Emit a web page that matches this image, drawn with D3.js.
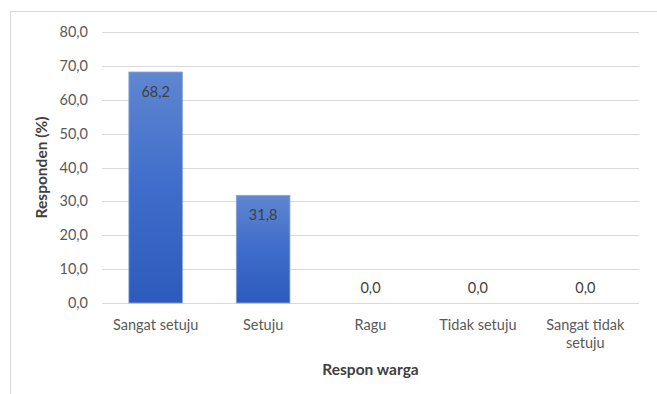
<!DOCTYPE html>
<html>
<head>
<meta charset="utf-8">
<script src="https://cdn.jsdelivr.net/npm/d3@7"></script>
<style>
  body { margin: 0; background: #fff; }
  text { font-family: Lato, "Open Sans", sans-serif; }
</style>
</head>
<body>
<div id="chart"></div>
<script>
// data
const categories = ["Sangat setuju", "Setuju", "Ragu", "Tidak setuju", "Sangat tidak setuju"];
const values = [68.2, 31.8, 0.0, 0.0, 0.0];
const yTicks = [0, 10, 20, 30, 40, 50, 60, 70, 80];

const width = 657, height = 394;
const margin = { top: 32, right: 18, bottom: 91, left: 102 };

const svg = d3.select("#chart").append("svg")
  .attr("width", width)
  .attr("height", height);

// outer frame (clipped at the right and bottom like the screenshot)
svg.append("rect")
  .attr("x", 10.5).attr("y", 11.5)
  .attr("width", 700).attr("height", 500)
  .attr("fill", "none").attr("stroke", "#d9d9d9");

const defs = svg.append("defs");
const grad = defs.append("linearGradient")
  .attr("id", "barGrad").attr("x1", 0).attr("y1", 0).attr("x2", 0).attr("y2", 1);
grad.append("stop").attr("offset", "0%").attr("stop-color", "#5f86d0");
grad.append("stop").attr("offset", "50%").attr("stop-color", "#3f6dcb");
grad.append("stop").attr("offset", "100%").attr("stop-color", "#2c5bbd");

const x = d3.scaleBand()
  .domain(categories)
  .range([margin.left, width - margin.right])
  .paddingInner(0.5).paddingOuter(0.25);

const y = d3.scaleLinear()
  .domain([0, 80])
  .range([height - margin.bottom, margin.top]);

const fmt = v => d3.format(".1f")(v).replace(".", ",");

// gridlines
svg.append("g").selectAll("line")
  .data(yTicks)
  .join("line")
  .attr("x1", margin.left).attr("x2", width - margin.right)
  .attr("y1", d => Math.round(y(d)) + 0.5).attr("y2", d => Math.round(y(d)) + 0.5)
  .attr("stroke", "#d9d9d9").attr("stroke-width", 1);

// y tick labels
svg.append("g").selectAll("text")
  .data(yTicks)
  .join("text")
  .attr("x", 88)
  .attr("y", d => y(d))
  .attr("dy", "0.35em")
  .attr("text-anchor", "end")
  .attr("font-size", 14.5)
  .attr("fill", "#595959")
  .text(d => fmt(d));

// bars
svg.append("g").selectAll("rect")
  .data(values)
  .join("rect")
  .attr("x", (d, i) => x(categories[i]))
  .attr("y", d => y(d))
  .attr("width", x.bandwidth())
  .attr("height", d => y(0) - y(d))
  .attr("fill", "url(#barGrad)")
  .attr("stroke", d => d > 0 ? "#8eaadb" : "none")
  .attr("stroke-width", 0.8);

// data labels
svg.append("g").selectAll("text")
  .data(values)
  .join("text")
  .attr("x", (d, i) => x(categories[i]) + x.bandwidth() / 2)
  .attr("y", d => d > 0 ? y(d) + 20 : y(d) - 15)
  .attr("dy", "0.35em")
  .attr("text-anchor", "middle")
  .attr("font-size", 14.5)
  .attr("fill", "#404040")
  .text(d => fmt(d));

// category labels (wrapped)
const catLines = {
  "Sangat tidak setuju": ["Sangat tidak", "setuju"]
};
const catG = svg.append("g").selectAll("text")
  .data(categories)
  .join("text")
  .attr("x", d => x(d) + x.bandwidth() / 2)
  .attr("y", 330)
  .attr("text-anchor", "middle")
  .attr("font-size", 14.5)
  .attr("fill", "#595959");
catG.each(function (d) {
  const lines = catLines[d] || [d];
  d3.select(this).selectAll("tspan")
    .data(lines)
    .join("tspan")
    .attr("x", x(d) + x.bandwidth() / 2)
    .attr("dy", (l, i) => i === 0 ? 0 : 18)
    .text(l => l);
});

// axis titles
svg.append("text")
  .attr("x", (margin.left + width - margin.right) / 2)
  .attr("y", 375)
  .attr("text-anchor", "middle")
  .attr("font-size", 15.5)
  .attr("font-weight", "bold")
  .attr("fill", "#404040")
  .text("Respon warga");

svg.append("text")
  .attr("transform", `translate(47,${(y(0) + y(80)) / 2}) rotate(-90)`)
  .attr("text-anchor", "middle")
  .attr("font-size", 15.5)
  .attr("font-weight", "bold")
  .attr("fill", "#404040")
  .text("Responden (%)");
</script>
</body>
</html>
